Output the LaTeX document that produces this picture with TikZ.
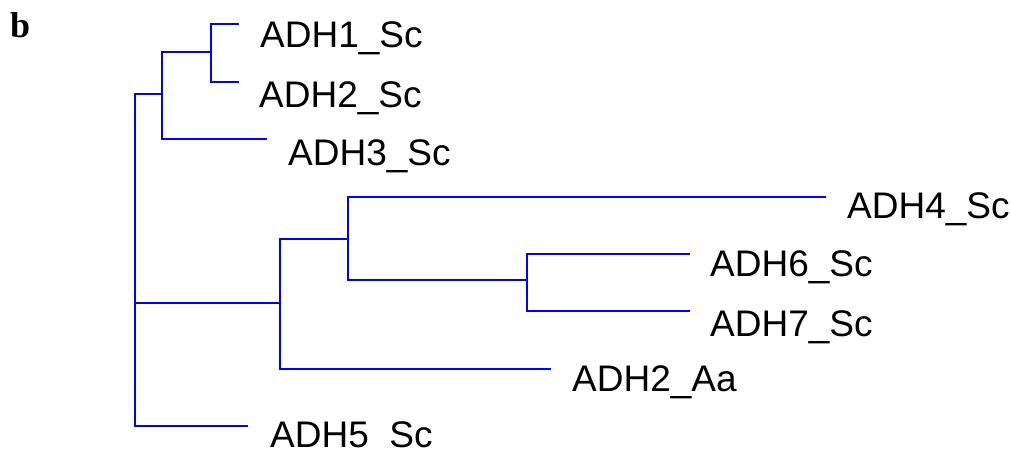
\documentclass[tikz,border=0pt]{standalone}
\usepackage{fontspec}
\setmainfont{Liberation Sans}
\newfontfamily\panelfont{Liberation Serif}
\begin{document}
\begin{tikzpicture}[x=1pt,y=-1pt,
  branch/.style={draw={rgb,255:red,0;green,0;blue,255},line width=1.6pt},
  taxon/.style={anchor=base west,inner sep=0pt,font=\fontsize{37}{42}\selectfont},
  panel/.style={anchor=base west,inner sep=0pt,font=\panelfont\bfseries\fontsize{36}{40}\selectfont}]
\useasboundingbox (0,0) rectangle (1011,450);
\clip (0,0) rectangle (1011,450);

% panel letter
\node[panel] (tag) at (10,37) {b};

% internal nodes
\coordinate (R) at (135,303);
\coordinate (B) at (162,94);
\coordinate (A) at (211,52);
\coordinate (E) at (280,303);
\coordinate (D) at (348,239);
\coordinate (C) at (527,280);

% leaf tips
\coordinate (l1) at (239,24);
\coordinate (l2) at (239,82);
\coordinate (l3) at (267,139);
\coordinate (l4) at (826,197);
\coordinate (l6) at (690,254);
\coordinate (l7) at (690,311);
\coordinate (la) at (551,369);
\coordinate (l5) at (248,426);

% branches
\draw[branch] (R) |- (B);
\draw[branch] (R) |- (l5);
\draw[branch] (R) -- (E);
\draw[branch] (B) |- (A);
\draw[branch] (B) |- (l3);
\draw[branch] (A) |- (l1);
\draw[branch] (A) |- (l2);
\draw[branch] (E) |- (D);
\draw[branch] (E) |- (la);
\draw[branch] (D) |- (l4);
\draw[branch] (D) |- (C);
\draw[branch] (C) |- (l6);
\draw[branch] (C) |- (l7);

% taxon labels (the last one runs past the lower edge)
\node[taxon] (t1) at (260,47) {ADH1\_Sc};
\node[taxon] (t2) at (259,107) {ADH2\_Sc};
\node[taxon] (t3) at (288,165) {ADH3\_Sc};
\node[taxon] (t4) at (847,218) {ADH4\_Sc};
\node[taxon] (t6) at (710,276) {ADH6\_Sc};
\node[taxon] (t7) at (710,336) {ADH7\_Sc};
\node[taxon] (ta) at (572,391) {ADH2\_Aa};
\node[taxon] (t5) at (270,447) {ADH5\_Sc};
\end{tikzpicture}
\end{document}
